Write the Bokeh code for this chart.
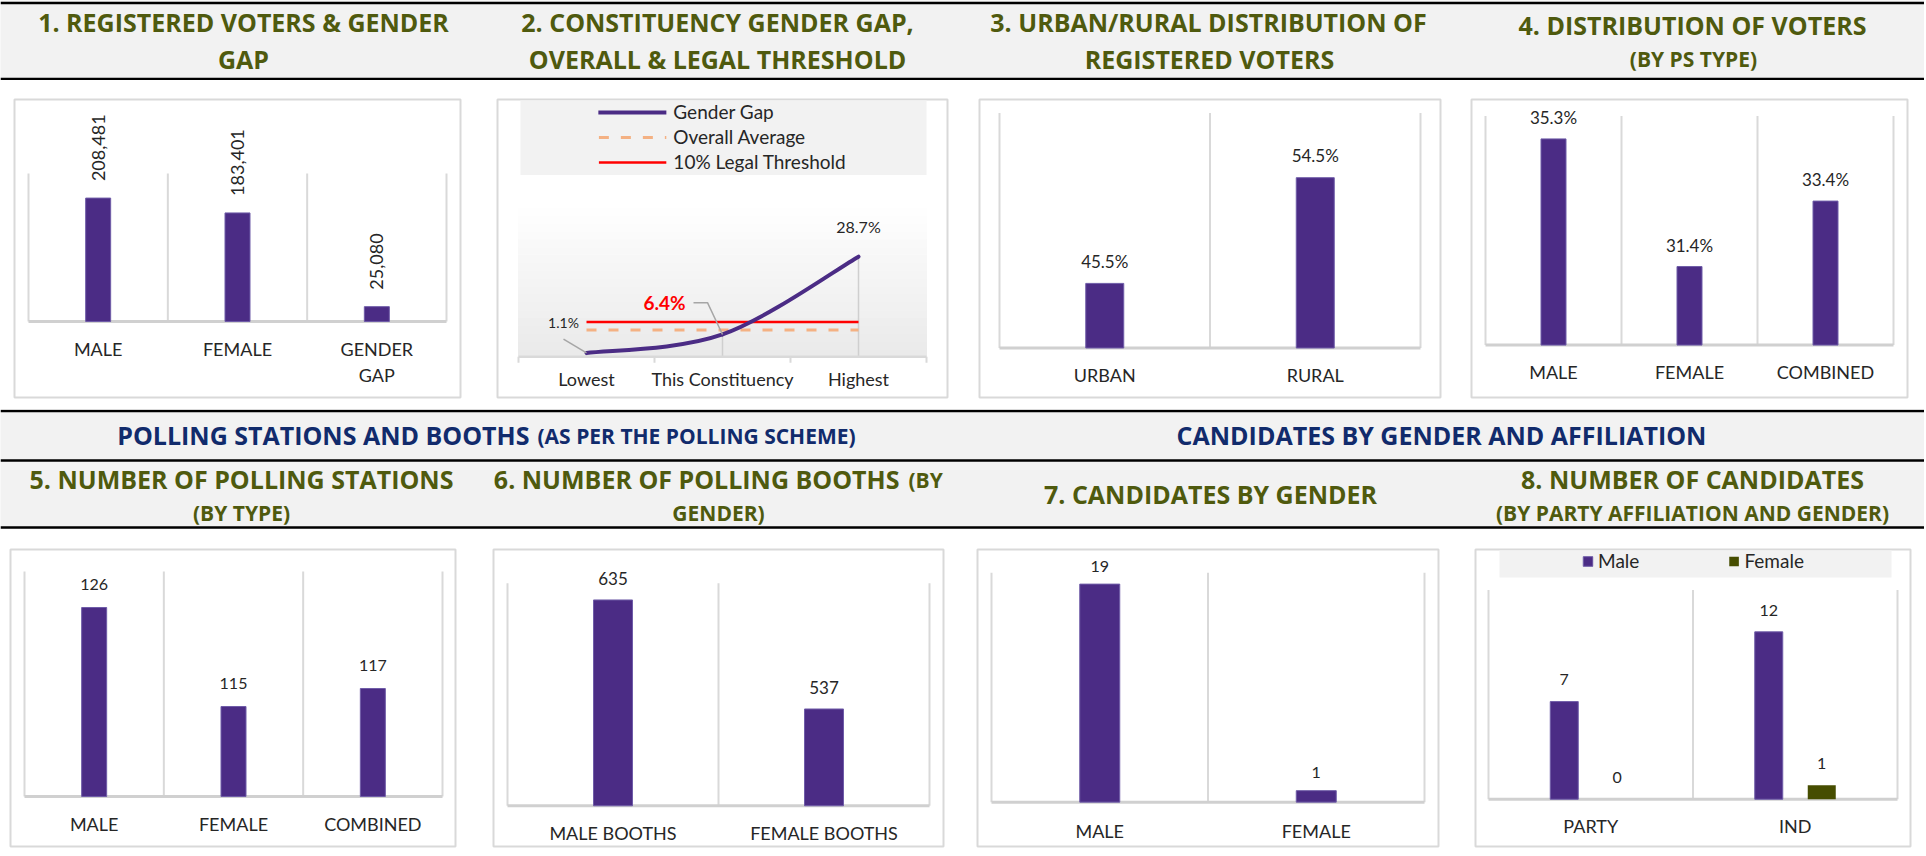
import math
from bokeh.plotting import figure
from bokeh.models import Range1d, LinearAxis, FixedTicker, Span, Legend, LegendItem
from bokeh.layouts import column, row
from bokeh.core.properties import value
from bokeh.embed import file_html
from bokeh.resources import INLINE

# ---------------- data ----------------
voter_categories = ["MALE", "FEMALE", "GENDER\nGAP"]
voter_counts = [208481, 183401, 25080]

gap_categories = ["Lowest", "This Constituency", "Highest"]
gap_percent = [1.1, 6.4, 28.7]
overall_average_percent = 7.7
legal_threshold_percent = 10.0

area_categories = ["URBAN", "RURAL"]
area_percent = [45.5, 54.5]

ps_type_categories = ["MALE", "FEMALE", "COMBINED"]
ps_type_percent = [35.3, 31.4, 33.4]

station_categories = ["MALE", "FEMALE", "COMBINED"]
station_counts = [126, 115, 117]

booth_categories = ["MALE BOOTHS", "FEMALE BOOTHS"]
booth_counts = [635, 537]

candidate_categories = ["MALE", "FEMALE"]
candidate_counts = [19, 1]

affiliation_categories = ["PARTY", "IND"]
affiliation_male = [7, 12]
affiliation_female = [0, 1]

# ---------------- style ----------------
PURPLE = "#4B2C85"
PURPLE_EDGE = "#6F5CA8"
OLIVE_BAR = "#464D00"
TITLE = "#4F5A0E"
NAVY = "#112B6C"
BOX = "#d9d9d9"
GRID = "#d9d9d9"
TEXT = "#262626"
HEAD_BG = "#f2f2f2"
NUM_FONT = "Lato"
TITLE_FONT = "Open Sans"
CAP = 0.36  # cap-centre above the baseline, in em

ROW1 = (80, 409)
ROW2 = (529, 855)
SLOTS = [(0, 476), (476, 962), (962, 1456), (1456, 1924)]


def px(size):
    return float(size.replace("px", ""))


class Panel:
    def __init__(self, slot, rows, box, plot, n, vmin, vmax):
        self.slot, self.rows, self.box, self.plot = slot, rows, box, plot
        self.n, self.vmin, self.vmax = n, vmin, vmax
        self.cw = (plot[2] - plot[0]) / n
        self.s = (plot[3] - plot[1]) / (vmax - vmin)

    def x_at(self, px_):
        return (px_ - self.plot[0]) / self.cw - 0.5

    def y_at(self, py):
        return self.vmin + (self.plot[3] - py) / self.s

    def make(self):
        bl, bt, br, bb = self.box
        p = figure(width=self.slot[1] - self.slot[0], height=self.rows[1] - self.rows[0],
                   x_range=Range1d(self.x_at(bl), self.x_at(br)),
                   y_range=Range1d(self.y_at(bb), self.y_at(bt)),
                   min_border_left=bl - self.slot[0], min_border_right=self.slot[1] - br,
                   min_border_top=bt - self.rows[0], min_border_bottom=self.rows[1] - bb,
                   x_axis_location=None, y_axis_location=None,
                   toolbar_location=None, output_backend="svg")
        p.xgrid.visible = False
        p.ygrid.visible = False
        p.outline_line_color = BOX
        p.outline_line_width = 2
        p.background_fill_color = "white"
        p.border_fill_color = "white"
        return p


def cat_axis(p, pan, cats, standoff, size="18px", loc=None):
    ax = LinearAxis(fixed_location=pan.vmin if loc is None else loc,
                    ticker=FixedTicker(ticks=list(range(len(cats))), minor_ticks=[]),
                    major_label_overrides={i: c for i, c in enumerate(cats)},
                    axis_line_color=None, major_tick_line_color=None,
                    minor_tick_line_color=None, major_tick_out=0, major_tick_in=0,
                    major_label_standoff=standoff, major_label_text_font=NUM_FONT,
                    major_label_text_font_size=size, major_label_text_color=TEXT)
    p.add_layout(ax, "below")


def frame_lines(p, pan):
    n = pan.n
    xs = [i - 0.5 for i in range(n + 1)]
    p.segment(x0=xs, y0=[pan.vmin] * len(xs), x1=xs, y1=[pan.vmax] * len(xs),
              line_color=GRID, line_width=2)
    p.segment(x0=[-0.5], y0=[pan.vmin], x1=[n - 0.5], y1=[pan.vmin],
              line_color="#d0d0d0", line_width=3)


def label(p, x, y, text, size, off=0.0, dx=0.0, color=TEXT, bold=False, align="center"):
    # off: gap in px between the anchor point and the text baseline
    p.text(x=x, y=y, text=text, text_align=align, text_baseline="middle",
           x_offset=dx, y_offset=-(off + CAP * px(size)), text_font=value(NUM_FONT),
           text_font_size=size, text_color=color,
           text_font_style="bold" if bold else "normal")


def bar_panel(pan, cats, vals, bar_px, fmt, size, off, standoff, rotate=False):
    p = pan.make()
    frame_lines(p, pan)
    xs = list(range(len(cats)))
    p.vbar(x=xs, top=vals, bottom=pan.vmin, width=bar_px / pan.cw,
           fill_color=PURPLE, line_color=PURPLE_EDGE, line_width=1)
    labels = [fmt(v) for v in vals]
    if rotate:
        p.text(x=xs, y=vals, text=labels, angle=math.pi / 2, text_align="left",
               text_baseline="middle", y_offset=-off, text_font=value(NUM_FONT),
               text_font_size=size, text_color=TEXT)
    else:
        label(p, xs, vals, labels, size, off)
    cat_axis(p, pan, cats, standoff)
    return p


# ---------------- panel 1 ----------------
pan1 = Panel(SLOTS[0], ROW1, (14, 99, 460, 397), (28, 173, 446, 321), 3, 0, 250000)
p1 = bar_panel(pan1, voter_categories, voter_counts, 25, lambda v: f"{v:,}", "18px", 17, 16,
               rotate=True)

# ---------------- panel 2 (line) ----------------
pan2 = Panel(SLOTS[1], ROW1, (497, 99, 947, 399), (518, 200, 926, 358), 3, 0, 45)
p2 = pan2.make()
nb = 20
edges = [pan2.vmin + (pan2.vmax - pan2.vmin) * k / nb for k in range(nb + 1)]
cols = []
for k in range(nb):
    g = int(round(234 + (255 - 234) * k / (nb - 1)))
    cols.append("#%02x%02x%02x" % (g, g, g))
p2.quad(left=-0.5, right=2.5, bottom=edges[:-1], top=edges[1:], fill_color=cols,
        line_color=cols, line_width=1)
p2.quad(left=[pan2.x_at(520)], right=[pan2.x_at(926)], bottom=[pan2.y_at(175)],
        top=[pan2.y_at(100)], fill_color=HEAD_BG, line_color=None)
gx = list(range(len(gap_categories)))
p2.segment(x0=gx, y0=[0] * 3, x1=gx, y1=gap_percent, line_color="#cfcfcf", line_width=1.5)
p2.segment(x0=[-0.5], y0=[0], x1=[2.5], y1=[0], line_color=GRID, line_width=2.5)
tk = [i - 0.5 for i in range(4)]
p2.segment(x0=tk, y0=[0] * 4, x1=tk, y1=[-6 / pan2.s] * 4, line_color=GRID, line_width=2)
r_avg = p2.line(x=gx, y=[overall_average_percent] * 3, line_color="#F4B183", line_width=3,
                line_dash="10 12")
r_thr = p2.line(x=gx, y=[legal_threshold_percent] * 3, line_color="#FF0000", line_width=2.5)
# smooth (Catmull-Rom style) bezier through the three points
pts = list(zip(gx, gap_percent))
bx0, by0, bx1, by1, cx0, cy0, cx1, cy1 = [], [], [], [], [], [], [], []
for i in range(len(pts) - 1):
    a = pts[i - 1] if i > 0 else pts[i]
    b = pts[i]
    c = pts[i + 1]
    d = pts[i + 2] if i + 2 < len(pts) else pts[i + 1]
    bx0.append(b[0]); by0.append(b[1]); bx1.append(c[0]); by1.append(c[1])
    cx0.append(b[0] + (c[0] - a[0]) / 6); cy0.append(b[1] + (c[1] - a[1]) / 6)
    cx1.append(c[0] - (d[0] - b[0]) / 6); cy1.append(c[1] - (d[1] - b[1]) / 6)
r_gap = p2.bezier(x0=bx0, y0=by0, x1=bx1, y1=by1, cx0=cx0, cy0=cy0, cx1=cx1, cy1=cy1,
                  line_color=PURPLE, line_width=4, line_cap="round")


def px_pt(i, dxp, dyp):
    return gx[i] + dxp / pan2.cw, gap_percent[i] - dyp / pan2.s


a0 = px_pt(0, -23, -14)
p2.segment(x0=[a0[0]], y0=[a0[1]], x1=[gx[0]], y1=[gap_percent[0]], line_color="#a6a6a6",
           line_width=1.5)
e1, e2 = px_pt(1, -29, -32), px_pt(1, -15, -32)
p2.line(x=[e1[0], e2[0], gx[1]], y=[e1[1], e2[1], gap_percent[1]], line_color="#a6a6a6",
        line_width=1.5)
lab = [f"{v:.1f}%" for v in gap_percent]
label(p2, [gx[0]], [gap_percent[0]], [lab[0]], "14px", off=25, dx=-23)
label(p2, [gx[1]], [gap_percent[1]], [lab[1]], "19px", off=25, dx=-58, color="#FF0000",
      bold=True)
label(p2, [gx[2]], [gap_percent[2]], [lab[2]], "16px", off=24)
leg2 = Legend(items=[LegendItem(label="Gender Gap", renderers=[r_gap]),
                     LegendItem(label="Overall Average", renderers=[r_avg]),
                     LegendItem(label="10% Legal Threshold", renderers=[r_thr])],
              location="top_center", orientation="vertical", glyph_width=68, glyph_height=18,
              label_height=18, label_standoff=7, spacing=2, padding=1, margin=0,
              label_text_font=NUM_FONT, label_text_font_size="19px",
              label_text_color=TEXT, background_fill_alpha=0, border_line_alpha=0)
p2.add_layout(leg2)
cat_axis(p2, pan2, gap_categories, 11, loc=0)

# ---------------- panel 3 ----------------
pan3 = Panel(SLOTS[2], ROW1, (979, 96, 1440, 403), (999, 110, 1420, 352), 2, 40, 60)
p3 = bar_panel(pan3, area_categories, area_percent, 38, lambda v: f"{v:.1f}%", "17px", 16, 16)

# ---------------- panel 4 ----------------
pan4 = Panel(SLOTS[3], ROW1, (1471, 96, 1907, 403), (1485, 113, 1893, 349), 3, 29, 36)
p4 = bar_panel(pan4, ps_type_categories, ps_type_percent, 25, lambda v: f"{v:.1f}%", "17px",
               15, 16)

# ---------------- panel 5 ----------------
pan5 = Panel(SLOTS[0], ROW2, (10, 549, 455, 846), (24, 571, 442, 796), 3, 105, 130)
p5 = bar_panel(pan5, station_categories, station_counts, 25, str, "16px", 17, 16)

# ---------------- panel 6 ----------------
pan6 = Panel(SLOTS[1], ROW2, (493, 549, 943, 848), (507, 583, 929, 807), 2, 450, 650)
p6 = bar_panel(pan6, booth_categories, booth_counts, 39, str, "17px", 15, 16)

# ---------------- panel 7 ----------------
pan7 = Panel(SLOTS[2], ROW2, (977, 545, 1438, 853), (991, 569, 1424, 807), 2, 0, 20)
p7 = bar_panel(pan7, candidate_categories, candidate_counts, 40, str, "16px", 12, 18)

# ---------------- panel 8 ----------------
pan8 = Panel(SLOTS[3], ROW2, (1475, 545, 1910, 853), (1488, 587, 1897, 804), 2, 0, 15)
p8 = pan8.make()
p8.quad(left=[pan8.x_at(1499)], right=[pan8.x_at(1891)], bottom=[pan8.y_at(574)],
        top=[pan8.y_at(546)], fill_color=HEAD_BG, line_color=None)
frame_lines(p8, pan8)
ax8 = list(range(len(affiliation_categories)))
dodge = 26.5 / pan8.cw
bw = 28 / pan8.cw
xm = [x - dodge for x in ax8]
xf = [x + dodge for x in ax8]
r_m = p8.vbar(x=xm, top=affiliation_male, bottom=0, width=bw, fill_color=PURPLE,
              line_color=PURPLE_EDGE, line_width=1)
r_f = p8.vbar(x=xf, top=affiliation_female, bottom=0, width=bw, fill_color=OLIVE_BAR,
              line_color=None)
label(p8, xm + xf, affiliation_male + affiliation_female,
      [str(v) for v in affiliation_male + affiliation_female], "16px", off=16)
leg8 = Legend(items=[LegendItem(label="Male", renderers=[r_m]),
                     LegendItem(label="Female", renderers=[r_f])],
              location="top_center", orientation="horizontal", glyph_width=12, glyph_height=12,
              label_standoff=5, spacing=88, padding=0, margin=0,
              label_text_font=NUM_FONT, label_text_font_size="19px", label_text_color=TEXT,
              background_fill_alpha=0, border_line_alpha=0)
p8.add_layout(leg8)
cat_axis(p8, pan8, affiliation_categories, 16)


# ---------------- header bands ----------------
def header(y0, y1, rules, texts):
    p = figure(width=1924, height=y1 - y0, x_range=Range1d(0, 1924), y_range=Range1d(y1, y0),
               min_border=0, x_axis_location=None, y_axis_location=None,
               toolbar_location=None, output_backend="svg")
    p.xgrid.visible = False
    p.ygrid.visible = False
    p.outline_line_color = None
    p.background_fill_color = HEAD_BG
    p.border_fill_color = HEAD_BG
    for r in rules:
        p.add_layout(Span(location=r, dimension="width", line_color="black", line_width=2.5))
    for (x, y, t, size, color, align) in texts:
        p.text(x=[x], y=[y - CAP * px(size)], text=[t], text_align=align,
               text_baseline="middle", text_font=value(TITLE_FONT), text_font_style="bold",
               text_font_size=size, text_color=color)
    return p


BIG, SMALL = "25px", "21px"
h1 = header(0, 80, [2.5, 78.5], [
    (243, 30, "1. REGISTERED VOTERS & GENDER", BIG, TITLE, "center"),
    (243, 67, "GAP", BIG, TITLE, "center"),
    (717, 30, "2. CONSTITUENCY GENDER GAP,", BIG, TITLE, "center"),
    (717, 67, "OVERALL & LEGAL THRESHOLD", BIG, TITLE, "center"),
    (1208, 30, "3. URBAN/RURAL DISTRIBUTION OF", BIG, TITLE, "center"),
    (1209, 67, "REGISTERED VOTERS", BIG, TITLE, "center"),
    (1692, 33, "4. DISTRIBUTION OF VOTERS", BIG, TITLE, "center"),
    (1693, 66, "(BY PS TYPE)", SMALL, TITLE, "center"),
])
h2 = header(409, 529, [410.5, 460, 527], [
    (529, 443, "POLLING STATIONS AND BOOTHS", BIG, NAVY, "right"),
    (537, 443, "(AS PER THE POLLING SCHEME)", SMALL, NAVY, "left"),
    (1441, 443, "CANDIDATES BY GENDER AND AFFILIATION", BIG, NAVY, "center"),
    (241, 487, "5. NUMBER OF POLLING STATIONS", BIG, TITLE, "center"),
    (241, 520, "(BY TYPE)", SMALL, TITLE, "center"),
    (899, 487, "6. NUMBER OF POLLING BOOTHS", BIG, TITLE, "right"),
    (908, 487, "(BY", SMALL, TITLE, "left"),
    (718, 520, "GENDER)", SMALL, TITLE, "center"),
    (1210, 502, "7. CANDIDATES BY GENDER", BIG, TITLE, "center"),
    (1692, 487, "8. NUMBER OF CANDIDATES", BIG, TITLE, "center"),
    (1692, 520, "(BY PARTY AFFILIATION AND GENDER)", SMALL, TITLE, "center"),
])

layout = column(h1, row(p1, p2, p3, p4), h2, row(p5, p6, p7, p8))
open("out.html", "w").write(file_html(layout, INLINE))
